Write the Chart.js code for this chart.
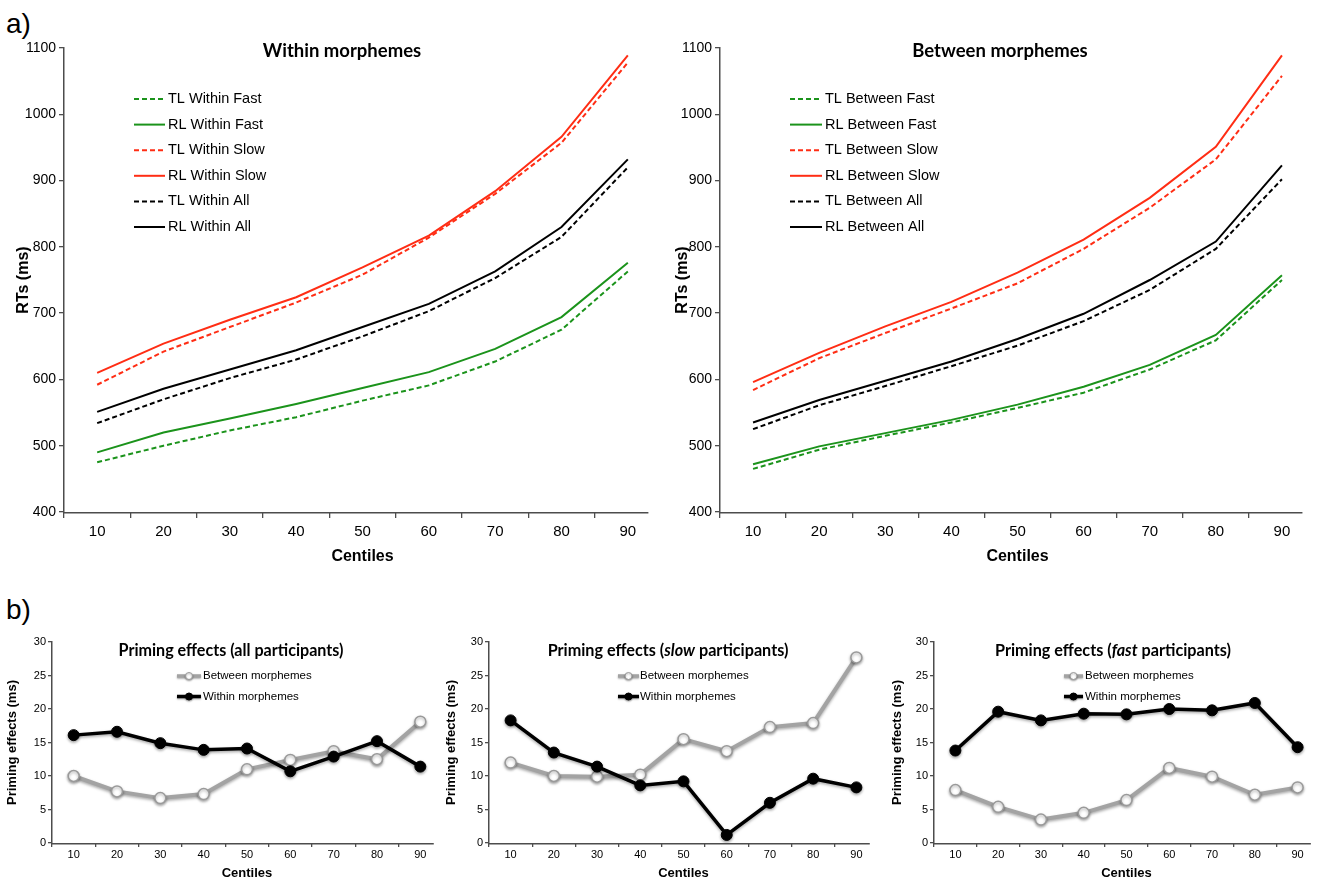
<!DOCTYPE html>
<html><head><meta charset="utf-8">
<script src="https://cdn.jsdelivr.net/npm/chart.js@4.4.1/dist/chart.umd.min.js"></script>
<style>
html,body{margin:0;padding:0;background:#fff;overflow:hidden;width:1326px;height:879px;position:relative;}
canvas{position:absolute;display:block;}
.lbl{position:absolute;font-family:"Liberation Sans",Arial,sans-serif;font-size:28px;line-height:28px;color:#000;}
</style></head><body>
<div class="lbl" style="left:6px;top:10px">a)</div>
<div class="lbl" style="left:6px;top:596px">b)</div>
<canvas id="cA" width="680" height="568" style="left:0;top:0"></canvas>
<canvas id="cB" width="666" height="568" style="left:660px;top:0"></canvas>
<canvas id="cC" width="450" height="281" style="left:0;top:600px"></canvas>
<canvas id="cD" width="445" height="281" style="left:440px;top:600px"></canvas>
<canvas id="cE" width="446" height="281" style="left:880px;top:600px"></canvas>
<script>
// ---------- DATA ----------
const centiles = ['10','20','30','40','50','60','70','80','90'];
const rtTicks = [400, 500, 600, 700, 800, 900, 1000, 1100];
const primingTicks = [0, 5, 10, 15, 20, 25, 30];

// Within morphemes (RTs, ms)
const tlWithinFast = [475, 500, 523, 543, 568, 591, 627, 675, 763];
const rlWithinFast = [490, 520, 541, 563, 587, 611, 646, 694, 776];
const tlWithinSlow = [592, 642, 679, 716, 758, 814, 880, 957, 1078];
const rlWithinSlow = [610, 654, 690, 724, 769, 817, 884, 966, 1089];
const tlWithinAll  = [534, 570, 602, 630, 665, 703, 753, 815, 920];
const rlWithinAll  = [551, 586, 615, 644, 679, 714, 763, 830, 932];

// Between morphemes (RTs, ms)
const tlBetweenFast = [465, 494, 515, 535, 557, 580, 615, 659, 750];
const rlBetweenFast = [472, 499, 519, 539, 562, 589, 622, 667, 757];
const tlBetweenSlow = [584, 632, 670, 707, 745, 797, 859, 932, 1058];
const rlBetweenSlow = [596, 640, 680, 717, 761, 811, 874, 951, 1089];
const tlBetweenAll  = [525, 561, 590, 620, 651, 688, 735, 797, 902];
const rlBetweenAll  = [535, 569, 598, 627, 661, 699, 750, 808, 923];

// Priming effects (ms)
const allBetween  = [10.0, 7.7, 6.7, 7.3, 11.0, 12.4, 13.7, 12.5, 18.1];
const allWithin   = [16.1, 16.6, 14.9, 13.9, 14.1, 10.7, 12.9, 15.2, 11.4];
const slowBetween = [12.0, 10.0, 9.9, 10.2, 15.5, 13.7, 17.3, 17.9, 27.7];
const slowWithin  = [18.3, 13.5, 11.4, 8.6, 9.2, 1.2, 6.0, 9.6, 8.3];
const fastBetween = [7.9, 5.4, 3.5, 4.5, 6.4, 11.2, 9.9, 7.2, 8.3];
const fastWithin  = [13.8, 19.6, 18.3, 19.3, 19.2, 20.0, 19.8, 20.9, 14.3];

// ---------- STYLE ----------
const GREEN = '#1b931b', RED = '#ff2d14', BLACK = '#000000', GRAY = '#a3a3a3';
const AX = '#4d4d4d';
const DASH = [5, 3];
const SANS = '"Liberation Sans", Arial, sans-serif';

// ---------- PLUGINS ----------
const overlay = {
  id: 'overlay',
  afterDraw(chart, args, opts) {
    const ctx = chart.ctx;
    ctx.save();
    // x axis line: stops a little after the last category (Excel style)
    const xs = chart.scales.x;
    const n = xs.ticks.length;
    const pLast = xs.getPixelForTick(n - 1), pPrev = xs.getPixelForTick(n - 2);
    const xEnd = pLast + (opts.axisTail || 0.31) * (pLast - pPrev);
    ctx.strokeStyle = AX; ctx.lineWidth = 1.5;
    ctx.beginPath(); ctx.moveTo(xs.left - 0.75, Math.round(xs.top) + 0.75); ctx.lineTo(xEnd, Math.round(xs.top) + 0.75); ctx.stroke();

    if (opts.title) {
      const t = opts.title;
      let size = t.size;
      const measure = () => t.parts.reduce((s, p) => { ctx.font = (p.italic ? 'italic ' : '') + 'bold ' + size + 'px ' + t.family; return s + ctx.measureText(p.text).width; }, 0);
      let total = measure();
      if (t.width) { size = size * t.width / total; total = measure(); }
      let x = t.x - total / 2;
      ctx.fillStyle = '#000'; ctx.textBaseline = 'middle'; ctx.textAlign = 'left';
      t.parts.forEach(p => {
        ctx.font = (p.italic ? 'italic ' : '') + 'bold ' + size + 'px ' + t.family;
        ctx.fillText(p.text, x, t.y); x += ctx.measureText(p.text).width;
      });
    }
    if (opts.legend) {
      const L = opts.legend;
      chart.data.datasets.forEach((ds, i) => {
        const y = L.y + i * L.rowH;
        ctx.save();
        if (L.marker) { ctx.shadowColor = 'rgba(0,0,0,0.35)'; ctx.shadowBlur = 2; ctx.shadowOffsetY = 1; }
        ctx.strokeStyle = ds.borderColor; ctx.lineWidth = L.lineWidth || ds.borderWidth;
        ctx.setLineDash(ds.borderDash || []);
        ctx.beginPath(); ctx.moveTo(L.x0, y); ctx.lineTo(L.x1, y); ctx.stroke();
        ctx.setLineDash([]);
        if (L.marker) {
          ctx.beginPath(); ctx.arc((L.x0 + L.x1) / 2, y, L.markerR, 0, Math.PI * 2);
          ctx.fillStyle = ds.pointBackgroundColor; ctx.fill();
          ctx.lineWidth = 1; ctx.strokeStyle = ds.pointBorderColor; ctx.stroke();
        }
        ctx.restore();
        ctx.font = L.font; ctx.fillStyle = '#000'; ctx.textBaseline = 'middle'; ctx.textAlign = 'left';
        ctx.fillText(ds.label, L.tx, y);
      });
    }
    ctx.restore();
  }
};
const shadow = {
  id: 'shadow',
  beforeDatasetsDraw(chart, args, opts) {
    if (!opts.enabled) return;
    const ctx = chart.ctx; ctx.save();
    ctx.shadowColor = 'rgba(0,0,0,0.35)'; ctx.shadowBlur = 3; ctx.shadowOffsetX = 0; ctx.shadowOffsetY = 1.5;
  },
  afterDatasetsDraw(chart, args, opts) { if (opts.enabled) chart.ctx.restore(); }
};

// ---------- BUILDERS ----------
function makeChart(id, cfg) {
  const ticksArr = cfg.yTicks;
  return new Chart(document.getElementById(id), {
    type: 'line',
    data: { labels: centiles, datasets: cfg.datasets },
    options: {
      responsive: false, animation: false, devicePixelRatio: 1,
      layout: { padding: cfg.padding },
      plugins: { legend: { display: false }, title: { display: false }, tooltip: { enabled: false },
        overlay: cfg.overlay, shadow: { enabled: !!cfg.shadow } },
      elements: { line: { tension: 0 } },
      scales: {
        x: {
          type: 'category', offset: true,
          grid: { offset: true, drawOnChartArea: false, drawTicks: true, tickLength: cfg.xTick, lineWidth: 1.3,
            color: ctx => (ctx.tick ? AX : 'rgba(0,0,0,0)') },
          border: { display: false },
          ticks: { font: cfg.xFont, color: '#000', padding: cfg.xPad, maxRotation: 0, autoSkip: false },
          title: { display: true, text: 'Centiles', font: cfg.xTitleFont, color: '#000', padding: { top: 0, bottom: 0 } },
          afterFit: s => { s.height = cfg.xh; }
        },
        y: {
          min: ticksArr[0], max: ticksArr[ticksArr.length - 1],
          afterBuildTicks: s => { s.ticks = ticksArr.map(v => ({ value: v })); },
          ticks: { font: cfg.yFont, color: '#000', padding: cfg.yPad, callback: v => String(v) },
          grid: { drawOnChartArea: false, drawTicks: true, tickLength: cfg.yTick, color: AX, lineWidth: 1.3 },
          border: { display: true, color: AX, width: 1.5 },
          title: { display: true, text: cfg.yTitle, font: cfg.yTitleFont, color: '#000', padding: { top: 0, bottom: 0 } },
          afterFit: s => { s.width = cfg.yw; }
        }
      }
    },
    plugins: [overlay, shadow]
  });
}

function rtSet(label, data, color, dashed, order) {
  return { label, data, borderColor: color, backgroundColor: color, borderWidth: 2,
    borderDash: dashed ? DASH : [], pointRadius: 0, fill: false, order };
}
function topDatasets(kind, d) {
  return [
    rtSet('TL ' + kind + ' Fast', d[0], GREEN, true, 5),
    rtSet('RL ' + kind + ' Fast', d[1], GREEN, false, 4),
    rtSet('TL ' + kind + ' Slow', d[2], RED, true, 3),
    rtSet('RL ' + kind + ' Slow', d[3], RED, false, 2),
    rtSet('TL ' + kind + ' All', d[4], BLACK, true, 1),
    rtSet('RL ' + kind + ' All', d[5], BLACK, false, 0)
  ];
}
function primeDatasets(between, within) {
  return [
    { label: 'Between morphemes', data: between, borderColor: GRAY, borderWidth: 4,
      pointRadius: 5.5, pointBackgroundColor: '#ffffff', pointBorderColor: '#9a9a9a', pointBorderWidth: 1.5, order: 1 },
    { label: 'Within morphemes', data: within, borderColor: BLACK, borderWidth: 3.5,
      pointRadius: 5.5, pointBackgroundColor: BLACK, pointBorderColor: BLACK, pointBorderWidth: 1, order: 0 }
  ];
}

const topCommon = {
  yTicks: rtTicks, xTick: 6, xPad: 5, xh: 54, yTick: 5, yPad: 3,
  xFont: { family: SANS, size: 15 }, yFont: { family: SANS, size: 14 },
  xTitleFont: { family: SANS, size: 16, weight: 'bold' }, yTitleFont: { family: SANS, size: 16, weight: 'bold' },
  yTitle: 'RTs (ms)'
};
const botCommon = {
  yTicks: primingTicks, xTick: 4, xPad: 1, xh: 38, yTick: 4, yPad: 2,
  xFont: { family: SANS, size: 11 }, yFont: { family: SANS, size: 11 },
  xTitleFont: { family: SANS, size: 13, weight: 'bold' }, yTitleFont: { family: SANS, size: 13, weight: 'bold' },
  yTitle: 'Priming effects (ms)', shadow: true
};
const topLegendFont = '14.5px ' + SANS;
const botLegendFont = '11.5px ' + SANS;

makeChart('cA', Object.assign({}, topCommon, {
  padding: { left: 14, top: 48, right: 19, bottom: 2 }, yw: 50,
  datasets: topDatasets('Within', [tlWithinFast, rlWithinFast, tlWithinSlow, rlWithinSlow, tlWithinAll, rlWithinAll]),
  overlay: {
    title: { parts: [{ text: 'Within morphemes' }], x: 342, y: 51, size: 18.5, family: 'Lato' },
    legend: { x0: 134, x1: 165, tx: 168, y: 99, rowH: 25.6, font: topLegendFont }
  }
}));
makeChart('cB', Object.assign({}, topCommon, {
  padding: { left: 13, top: 48, right: 11, bottom: 2 }, yw: 47,
  datasets: topDatasets('Between', [tlBetweenFast, rlBetweenFast, tlBetweenSlow, rlBetweenSlow, tlBetweenAll, rlBetweenAll]),
  overlay: {
    title: { parts: [{ text: 'Between morphemes' }], x: 340, y: 51, size: 18.5, family: 'Lato' },
    legend: { x0: 130, x1: 162, tx: 165, y: 99, rowH: 25.6, font: topLegendFont }
  }
}));
makeChart('cC', Object.assign({}, botCommon, {
  padding: { left: 5, top: 42, right: 8, bottom: 0 }, yw: 47,
  datasets: primeDatasets(allBetween, allWithin),
  overlay: {
    title: { parts: [{ text: 'Priming effects (all participants)' }], x: 231, y: 51, size: 15, family: 'Lato', width: 225 },
    legend: { x0: 177, x1: 201, tx: 203, y: 76, rowH: 20.5, font: botLegendFont, marker: true, markerR: 3.5, lineWidth: 3.5 }
  }
}));
makeChart('cD', Object.assign({}, botCommon, {
  padding: { left: 4, top: 42, right: 7, bottom: 0 }, yw: 45,
  datasets: primeDatasets(slowBetween, slowWithin),
  overlay: {
    title: { parts: [{ text: 'Priming effects (' }, { text: 'slow', italic: true }, { text: ' participants)' }], x: 228, y: 51, size: 15, family: 'Lato', width: 241 },
    legend: { x0: 178, x1: 199, tx: 200, y: 76, rowH: 20.5, font: botLegendFont, marker: true, markerR: 3.5, lineWidth: 3.5 }
  }
}));
makeChart('cE', Object.assign({}, botCommon, {
  padding: { left: 10, top: 42, right: 3, bottom: 0 }, yw: 44,
  datasets: primeDatasets(fastBetween, fastWithin),
  overlay: {
    title: { parts: [{ text: 'Priming effects (' }, { text: 'fast', italic: true }, { text: ' participants)' }], x: 233, y: 51, size: 15, family: 'Lato', width: 236 },
    legend: { x0: 184, x1: 203, tx: 205, y: 76, rowH: 20.5, font: botLegendFont, marker: true, markerR: 3.5, lineWidth: 3.5 }
  }
}));
</script>
</body></html>
